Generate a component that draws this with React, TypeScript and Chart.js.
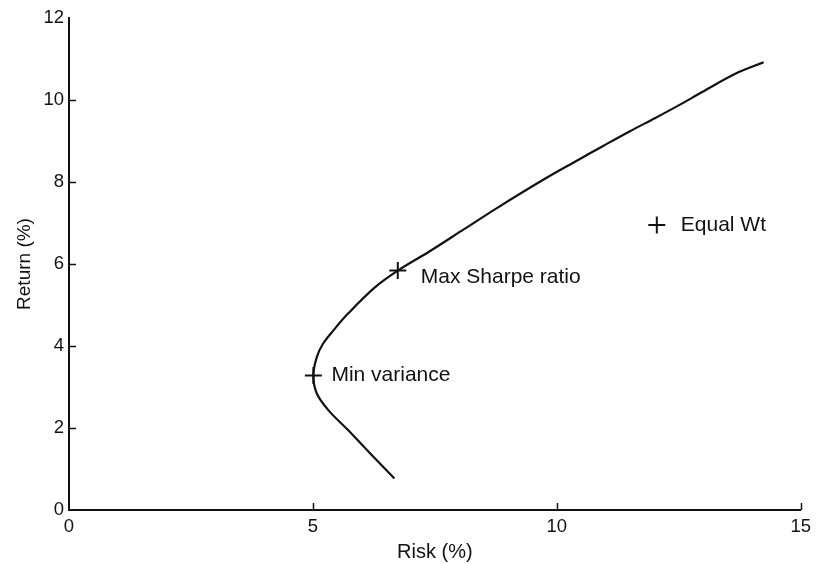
import React, { useEffect, useRef } from 'react';
import { Chart, registerables } from 'chart.js';

Chart.register(...registerables);

// Efficient frontier
const frontierRisk = [6.67, 6.27, 5.72, 5.32, 5.08, 5.01, 5.08, 5.21, 5.42, 5.72, 6.27, 6.74, 7.42, 8.1, 8.78, 9.73, 10.41, 10.95, 11.5, 12.0, 12.47, 12.99, 13.66, 14.24];
const frontierReturn = [0.77, 1.26, 1.95, 2.43, 2.84, 3.28, 3.73, 4.06, 4.38, 4.79, 5.43, 5.84, 6.33, 6.85, 7.37, 8.06, 8.52, 8.88, 9.24, 9.55, 9.85, 10.2, 10.64, 10.92];

// Marked portfolios
const pointNames = ['Min variance', 'Max Sharpe ratio', 'Equal Wt'];
const pointRisk = [5.01, 6.74, 12.05];
const pointReturn = [3.28, 5.84, 6.95];

// Axis ticks
const xTickValues = [0, 5, 10, 15];
const yTickValues = [0, 2, 4, 6, 8, 10, 12];

const FONT = '"Liberation Sans", Arial, Helvetica, sans-serif';
const INK = '#121212';

// label placement relative to its marker (style, not data)
const labelOffsets = [
  { dx: 18, dy: 0 },
  { dx: 23, dy: 7 },
  { dx: 24, dy: 0 },
];

const annotatePlugin = {
  id: 'annotate',
  afterDatasetsDraw(chart: any) {
    const { ctx, scales } = chart;
    const x = scales.x;
    const y = scales.y;
    ctx.save();
    ctx.font = `21px ${FONT}`;
    ctx.fillStyle = INK;
    ctx.textBaseline = 'middle';
    ctx.textAlign = 'left';
    pointNames.forEach((name, i) => {
      const px = x.getPixelForValue(pointRisk[i]);
      const py = y.getPixelForValue(pointReturn[i]);
      ctx.fillText(name, px + labelOffsets[i].dx, py + labelOffsets[i].dy);
    });
    // inward tick marks
    ctx.strokeStyle = INK;
    ctx.lineWidth = 1.5;
    ctx.beginPath();
    xTickValues.forEach((v) => {
      if (v === xTickValues[0]) return;
      const px = Math.round(x.getPixelForValue(v)) + 0.5;
      ctx.moveTo(px, y.bottom);
      ctx.lineTo(px, y.bottom - 7);
    });
    yTickValues.forEach((v) => {
      if (v === yTickValues[0] || v === yTickValues[yTickValues.length - 1]) return;
      const py = Math.round(y.getPixelForValue(v)) + 0.5;
      ctx.moveTo(x.left, py);
      ctx.lineTo(x.left + 7, py);
    });
    ctx.stroke();
    ctx.restore();
  },
};

export default function App() {
  const canvasRef = useRef<HTMLCanvasElement | null>(null);

  useEffect(() => {
    if (!canvasRef.current) return;
    const chart = new Chart(canvasRef.current, {
      type: 'scatter',
      data: {
        datasets: [
          {
            label: 'Frontier',
            data: frontierRisk.map((r, i) => ({ x: r, y: frontierReturn[i] })),
            showLine: true,
            borderColor: INK,
            borderWidth: 2.2,
            pointRadius: 0,
            tension: 0.35,
            fill: false,
          },
          {
            label: 'Portfolios',
            data: pointRisk.map((r, i) => ({ x: r, y: pointReturn[i] })),
            showLine: false,
            pointStyle: 'cross',
            pointRadius: 8.5,
            borderColor: INK,
            borderWidth: 2,
            backgroundColor: INK,
          },
        ],
      },
      options: {
        animation: false,
        responsive: false,
        layout: { padding: { top: 18, right: 11, left: 0, bottom: 0 } },
        plugins: {
          legend: { display: false },
          tooltip: { enabled: false },
        },
        scales: {
          x: {
            type: 'linear',
            min: 0,
            max: 15,
            afterBuildTicks: (s: any) => {
              s.ticks = xTickValues.map((v) => ({ value: v }));
            },
            afterFit: (s: any) => {
              s.height = 54;
            },
            ticks: { color: INK, font: { family: FONT, size: 18.5 }, padding: 6, maxRotation: 0 },
            grid: { display: false, drawTicks: false },
            border: { display: true, color: INK, width: 2 },
            title: {
              display: true,
              text: 'Risk (%)',
              color: INK,
              font: { family: FONT, size: 20 },
              padding: { top: 0, bottom: 0 },
            },
          },
          y: {
            type: 'linear',
            min: 0,
            max: 12,
            afterBuildTicks: (s: any) => {
              s.ticks = yTickValues.map((v) => ({ value: v }));
            },
            afterFit: (s: any) => {
              s.width = 69;
            },
            ticks: { color: INK, font: { family: FONT, size: 18.5 }, padding: 5 },
            grid: { display: false, drawTicks: false },
            border: { display: true, color: INK, width: 2 },
            title: {
              display: true,
              text: 'Return (%)',
              color: INK,
              font: { family: FONT, size: 19 },
              padding: { top: 13, bottom: 0 },
            },
          },
        },
      },
      plugins: [annotatePlugin],
    });
    return () => chart.destroy();
  }, []);

  return (
    <div style={{ position: 'absolute', left: 0, top: 0, width: 817, height: 564, background: '#fff' }}>
      <canvas ref={canvasRef} width={817} height={564} />
    </div>
  );
}
